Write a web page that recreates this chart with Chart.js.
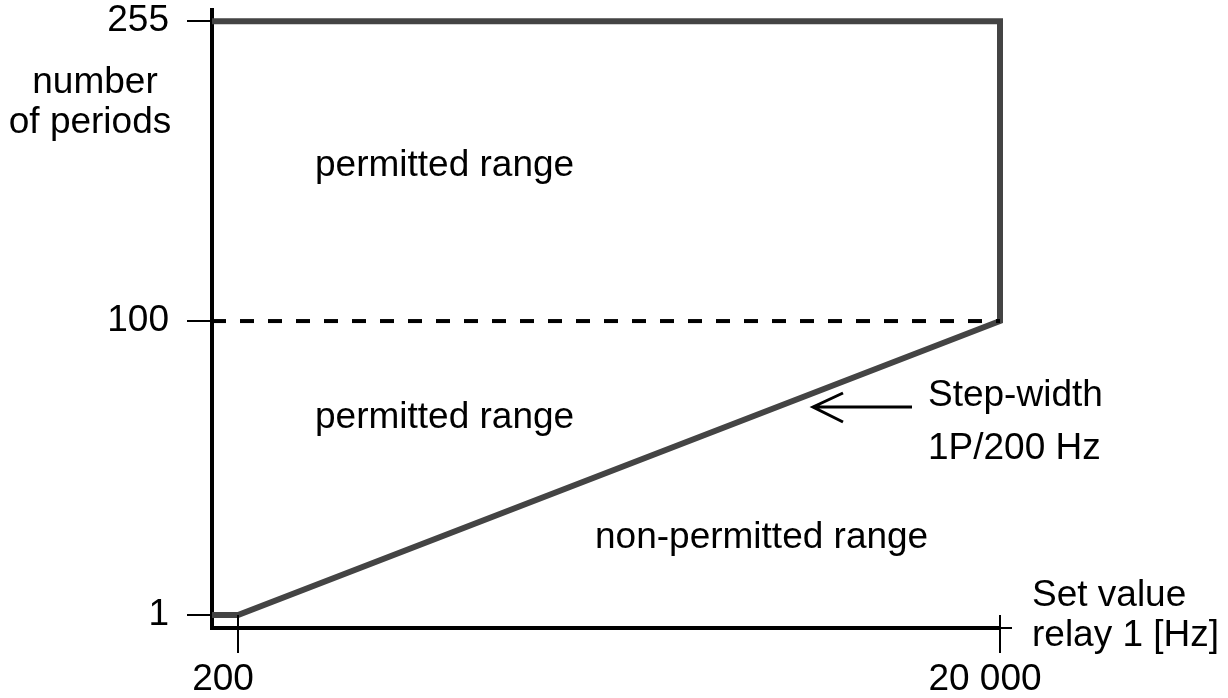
<!DOCTYPE html>
<html>
<head>
<meta charset="utf-8">
<script src="https://cdn.jsdelivr.net/npm/chart.js@4.4.1/dist/chart.umd.min.js"></script>
<style>
  html, body { margin: 0; padding: 0; background: #fff; }
  canvas { display: block; }
</style>
</head>
<body>
<canvas id="myChart" width="1228" height="698"></canvas>
<script>
// values
const stepFreqHz = [200, 20000];      // ends of the 1P/200 Hz ramp
const stepPeriods = [1, 100];
const maxPeriods = 255;
const xTickValues = [200, 20000];
const yTickValues = [1, 100, 255];
const yTickLevels = [0, 1, 2.02];     // schematic (non linear) spacing of the y axis

const X_MIN = -476;
const X_MAX = 20000;
const Y_MIN = -0.044;
const Y_MAX = 2.058;

// map a period count onto the schematic y axis
function level(v) {
  for (let i = 0; i < yTickValues.length - 1; i++) {
    const a = yTickValues[i], b = yTickValues[i + 1];
    if (v <= b) {
      return yTickLevels[i] + (v - a) / (b - a) * (yTickLevels[i + 1] - yTickLevels[i]);
    }
  }
  return yTickLevels[yTickLevels.length - 1];
}

const boundary = [
  { x: X_MIN, y: level(stepPeriods[0]) },
  { x: stepFreqHz[0], y: level(stepPeriods[0]) },
  { x: stepFreqHz[1], y: level(stepPeriods[1]) },
  { x: stepFreqHz[1], y: level(maxPeriods) },
  { x: X_MIN, y: level(maxPeriods) }
];
const dashed = [
  { x: X_MIN, y: level(stepPeriods[1]) },
  { x: stepFreqHz[1], y: level(stepPeriods[1]) }
];

Chart.defaults.font.family = "'Liberation Sans', Arial, sans-serif";
Chart.defaults.color = '#000';

const FONT = "37px 'Liberation Sans', Arial, sans-serif";

const extras = {
  id: 'extras',
  afterDraw(chart) {
    const c = chart.ctx;
    const xs = chart.scales.x, ys = chart.scales.y;
    const area = chart.chartArea;
    c.save();
    c.strokeStyle = '#000';
    // tick marks also cross the axis upward
    c.lineWidth = 2;
    xTickValues.forEach(v => {
      const px = Math.round(xs.getPixelForValue(v));
      c.beginPath();
      c.moveTo(px, ys.getPixelForValue(level(1)));
      c.lineTo(px, area.bottom);
      c.stroke();
    });
    // thin end of the x axis past the last tick
    c.beginPath();
    c.moveTo(area.right, area.bottom);
    c.lineTo(area.right + 12, area.bottom);
    c.stroke();

    // arrow pointing at the ramp
    c.lineWidth = 3;
    c.beginPath();
    c.moveTo(912, 407);
    c.lineTo(813, 407);
    c.moveTo(843, 393);
    c.lineTo(813, 407);
    c.lineTo(843, 422);
    c.stroke();

    c.fillStyle = '#000';
    c.font = FONT;
    c.textBaseline = 'alphabetic';
    c.textAlign = 'center';
    c.fillText('number', 95, 93);
    c.fillText('of periods', 90, 133);
    c.textAlign = 'left';
    c.fillText('permitted range', 315, 176);
    c.fillText('permitted range', 315, 428);
    c.fillText('non-permitted range', 595, 548);
    c.fillText('Step-width', 928, 406);
    c.fillText('1P/200 Hz', 928, 459);
    c.fillText('Set value', 1032, 606);
    c.fillText('relay 1 [Hz]', 1032, 646);
    c.restore();
  }
};

new Chart(document.getElementById('myChart'), {
  type: 'line',
  data: {
    datasets: [
      {
        data: dashed,
        borderColor: '#000',
        borderWidth: 4,
        borderDash: [14, 14],
        pointRadius: 0,
        fill: false,
        clip: false
      },
      {
        data: boundary,
        borderColor: '#444444',
        borderWidth: 6,
        borderJoinStyle: 'miter',
        borderCapStyle: 'butt',
        pointRadius: 0,
        fill: false,
        tension: 0,
        clip: false
      }
    ]
  },
  options: {
    responsive: false,
    animation: false,
    layout: { padding: { top: 10, right: 228, left: 0, bottom: 0 } },
    plugins: { legend: { display: false }, tooltip: { enabled: false } },
    scales: {
      x: {
        type: 'linear',
        min: X_MIN,
        max: X_MAX,
        afterBuildTicks: s => { s.ticks = xTickValues.map(v => ({ value: v })); },
        afterFit: s => { s.height = 70; s.paddingLeft = 0; s.paddingRight = 0; },
        border: { display: true, color: '#000', width: 4 },
        grid: { drawOnChartArea: false, drawTicks: true, tickLength: 25, color: '#000', lineWidth: 2 },
        ticks: {
          autoSkip: false,
          maxRotation: 0,
          padding: 5,
          labelOffset: -15,
          font: { size: 37 },
          color: '#000',
          callback: v => v >= 1000 ? v.toLocaleString('en-US').replace(',', ' ') : String(v)
        }
      },
      y: {
        type: 'linear',
        min: Y_MIN,
        max: Y_MAX,
        afterBuildTicks: s => { s.ticks = yTickLevels.map(v => ({ value: v })); },
        afterFit: s => { s.width = 212; s.paddingTop = 0; s.paddingBottom = 0; },
        border: { display: true, color: '#000', width: 4 },
        grid: { drawOnChartArea: false, drawTicks: true, tickLength: 25, color: '#000', lineWidth: 2 },
        ticks: {
          autoSkip: false,
          padding: 18,
          font: { size: 37 },
          color: '#000',
          callback: (v, i) => String(yTickValues[i])
        }
      }
    }
  },
  plugins: [extras]
});
</script>
</body>
</html>
